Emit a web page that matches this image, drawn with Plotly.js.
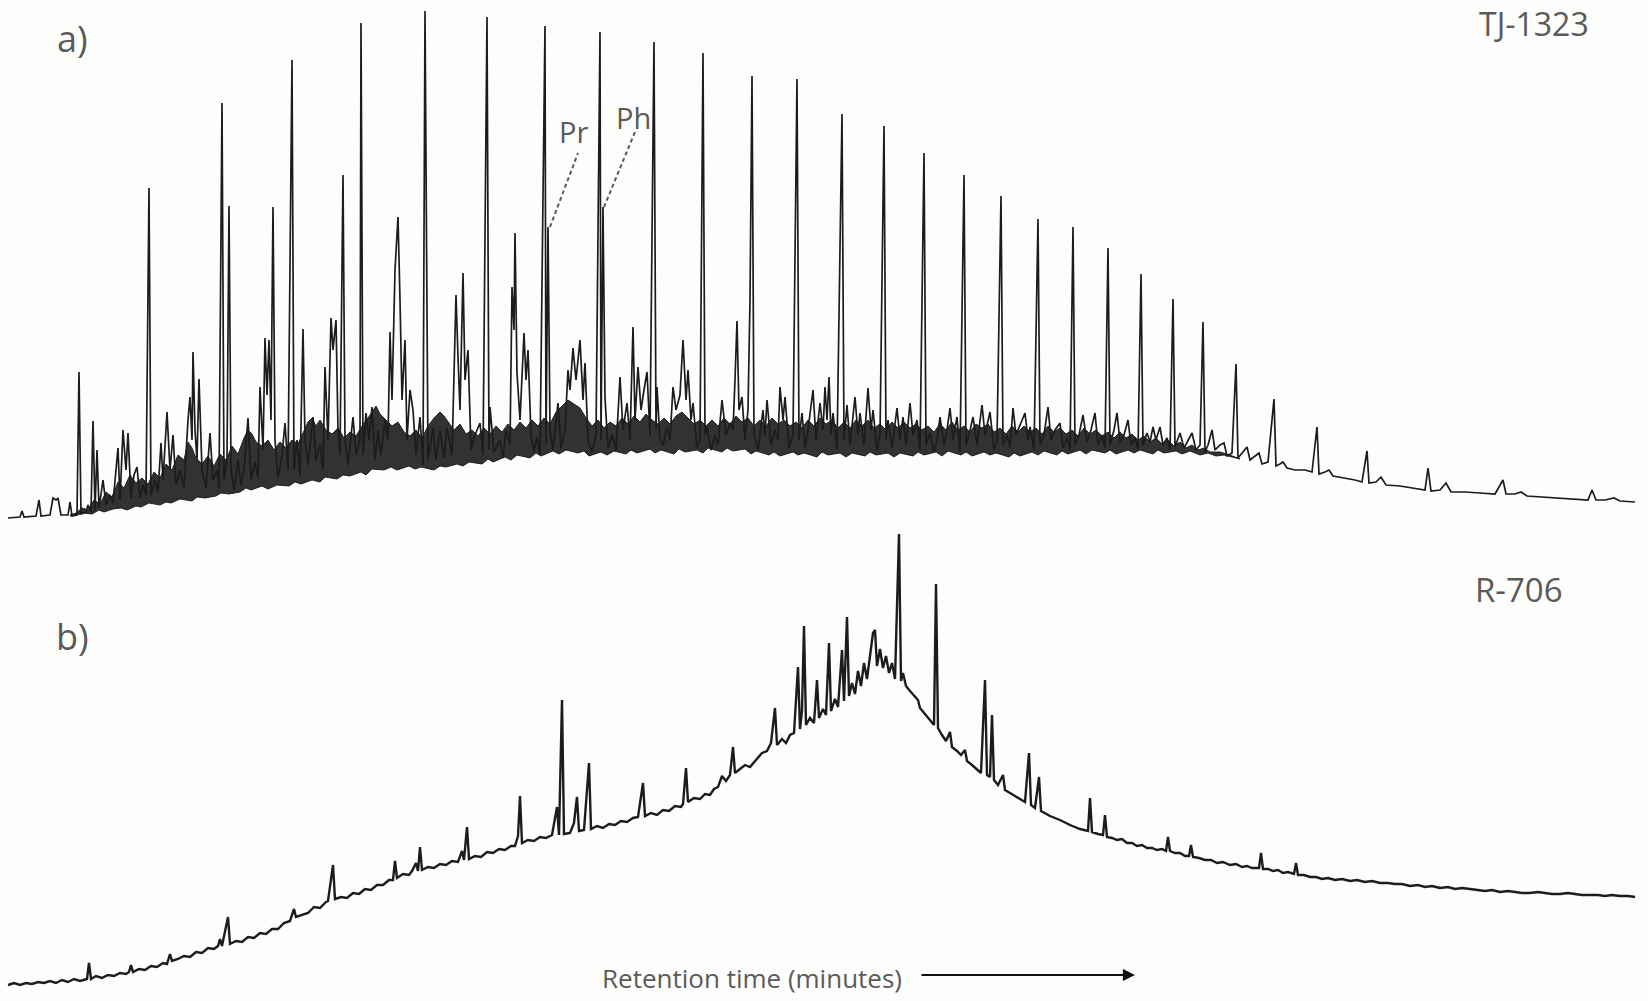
<!DOCTYPE html>
<html>
<head>
<meta charset="utf-8">
<script src="https://cdn.plot.ly/plotly-3.0.1.min.js"></script>
<style>
  html, body { margin: 0; padding: 0; background: #fdfdfc; }
  #chart { width: 1648px; height: 1001px; }
</style>
</head>
<body>
<div id="chart"></div>
<script>
// ---- Data (retention-time index, detector signal) ----
// a) TJ-1323 : digitized trace (valleys and peak apexes in order of retention)
const sampleA = "TJ-1323";
const traceA = [
 [8,12],[20,13],[22,19],[24,13],[36,14],[39,30],[41,14],[50,15],[53,32],[56,30],[58,32],[61,15],[68,15],[70,28],[72,14],[77,15],
 [79,158],[81,16],[86,18],[88,25],[91,18],[93,109],[95,20],[97,80],[99,22],[103,50],[106,25],[110,35],[113,27],
 [118,82],[120,30],[123,100],[126,60],[128,97],[131,32],[134,55],[137,63],[140,32],[143,45],[146,35],[149,342],[151,35],
 [155,50],[158,38],[161,87],[163,50],[167,118],[170,60],[173,95],[176,45],[180,60],[184,42],[188,110],[190,133],[192,90],
 [193,178],[195,100],[197,70],[199,151],[202,60],[206,42],[210,97],[213,50],[217,60],[219,42],[222,427],[224,50],[227,70],
 [229,324],[231,60],[234,40],[238,70],[241,45],[244,60],[248,112],[251,50],[255,68],[258,52],[260,143],[263,80],[265,192],
 [267,135],[269,190],[271,110],[273,323],[275,90],[278,52],[282,75],[285,107],[288,60],[292,470],[294,60],[297,90],[300,55],
 [303,201],[305,90],[308,65],[313,113],[316,70],[320,85],[323,60],[325,163],[328,90],[331,212],[333,180],[336,210],[338,100],
 [340,75],[343,355],[345,90],[348,65],[353,113],[356,75],[360,90],[361,507],[363,75],[366,117],[369,90],[372,123],[375,70],
 [378,100],[381,75],[385,110],[388,90],[390,198],[392,130],[395,260],[398,313],[400,230],[402,130],[405,190],[407,90],
 [410,140],[413,120],[416,75],[420,113],[423,65],[425,519],[428,70],
 [433,102],[436,70],[440,100],[444,72],[447,102],[452,75],[456,235],[458,173],[460,120],[463,257],[465,150],[468,180],[471,80],
 [475,95],[480,107],[483,75],[487,513],[489,80],[490,123],[494,78],[500,90],[503,72],[506,100],[510,85],[512,243],[514,200],
 [515,297],[517,157],[520,110],[524,197],[526,150],[528,180],[531,95],[534,78],[537,93],[540,75],[545,504],[546,85],[548,303],
 [550,100],[553,80],[558,127],[561,82],[565,100],[568,160],[570,140],[573,182],[576,150],[580,190],[583,130],[585,167],
 [588,90],[592,78],[596,95],[600,498],[601,90],[603,323],[605,132],[608,82],[612,95],[616,80],[620,153],[623,100],[627,127],
 [630,90],[633,203],[635,110],[638,163],[641,120],[644,140],[647,158],[650,95],[654,488],[656,100],[657,143],[660,90],[663,85],
 [667,103],[670,90],[673,143],[676,120],[680,135],[683,190],[686,130],[688,160],[691,110],[693,127],[697,82],[700,90],
 [703,477],[705,95],[707,103],[711,80],[715,95],[718,85],[722,130],[726,95],[730,107],[733,100],[735,150],[737,209],[739,120],
 [742,133],[745,90],[748,120],[750,230],[752,454],[754,95],[758,80],[763,120],[765,95],[767,130],[771,85],[775,100],[778,90],
 [780,143],[783,110],[785,133],[789,82],[793,95],[797,451],[799,90],[802,117],[805,82],[808,100],
 [813,140],[816,90],[820,127],[823,100],[825,143],[827,110],[829,153],[831,95],[833,117],[837,80],[842,416],[844,90],[847,125],
 [850,85],[855,133],[858,95],[860,117],[864,85],[868,142],[871,100],[873,120],[877,80],[880,95],[884,404],[886,90],[888,110],
 [892,82],[897,122],[900,90],[903,113],[906,85],[910,127],[913,95],[917,110],[920,80],[924,377],[926,85],[930,97],[934,78],
 [937,90],[940,113],[944,85],[947,100],[950,122],[953,90],[957,113],[960,78],[964,355],[966,85],[969,95],[973,113],[977,85],
 [982,125],[985,95],[990,118],[994,80],[997,90],[1001,334],[1003,85],[1007,95],[1010,82],[1013,122],[1016,95],[1020,105],
 [1025,117],[1028,90],[1030,103],[1034,80],[1038,311],[1040,85],[1044,95],[1048,123],[1051,90],[1055,100],[1060,107],[1063,82],
 [1067,92],[1070,80],[1073,303],[1075,85],[1079,95],[1083,115],[1087,88],[1091,100],[1095,117],[1098,85],[1102,95],[1105,82],
 [1108,282],[1110,85],[1114,100],[1117,117],[1120,88],[1124,95],[1128,110],[1131,85],[1135,92],[1138,80],[1141,256],[1143,85],
 [1147,97],[1150,88],[1153,103],[1156,90],[1160,103],[1163,85],[1167,92],[1170,80],[1173,231],[1175,83],[1180,97],[1184,82],
 [1188,90],[1192,97],[1196,80],[1200,85],[1203,208],[1205,78],[1208,85],[1212,100],[1215,80],[1220,85],[1224,87],[1227,74],
 [1232,77],[1236,166],[1238,72],[1243,78],[1247,83],[1250,70],[1255,74],[1259,77],[1262,66],[1268,68],[1274,131],[1276,64],
 [1280,66],[1283,68],[1287,62],[1295,60],[1305,60],[1312,58],[1317,103],[1319,56],[1325,58],[1329,60],[1333,54],[1345,52],
 [1355,50],[1362,48],[1367,79],[1369,47],[1376,48],[1381,53],[1386,45],[1400,44],[1415,42],[1425,40],[1428,62],[1431,39],
 [1440,40],[1446,47],[1451,38],[1465,38],[1480,37],[1495,36],[1503,50],[1506,36],[1515,36],[1521,38],[1527,34],[1545,33],
 [1560,32],[1575,31],[1588,30],[1592,40],[1596,30],[1605,30],[1614,32],[1620,29],[1635,28]
];
// a) unresolved dense "grass": irregular lower edge and jagged upper edge
const bandA_low = [
 [70,14],[77,15],[83,17],[92,16],[99,20],[104,18],[113,21],[121,22],[127,20],[136,24],[141,23],[149,27],[160,25],[166,28],
 [171,27],[180,31],[192,29],[197,33],[205,32],[216,34],[221,37],[229,36],[240,38],[246,42],[251,40],[262,44],[268,41],[277,45],
 [289,44],[295,48],[301,46],[312,50],[320,48],[325,53],[337,51],[343,55],[350,54],[361,58],[366,55],[372,61],[384,60],[391,63],
 [397,60],[409,64],[415,61],[421,63],[434,60],[440,64],[446,63],[457,66],[463,64],[469,68],[482,66],[488,71],[493,68],[505,73],
 [511,70],[517,75],[530,72],[536,77],[541,74],[553,79],[559,76],[566,80],[578,77],[584,79],[589,74],[601,78],[607,75],[614,79],
 [626,76],[631,80],[637,77],[650,81],[655,77],[661,80],[674,76],[679,81],[685,78],[697,80],[703,77],[708,82],[722,78],[727,82],
 [733,79],[745,81],[751,76],[756,79],[769,75],[774,78],[780,74],[793,78],[798,75],[804,77],[817,73],[822,78],[828,75],[840,77],
 [846,73],[852,77],[865,74],[870,78],[876,75],[888,77],[894,73],[900,77],[913,74],[918,78],[924,75],[936,78],[942,74],[948,79],
 [961,75],[966,78],[972,74],[984,78],[990,75],[996,77],[1009,73],[1014,77],[1020,74],[1032,78],[1038,75],[1044,79],[1057,75],
 [1062,79],[1068,76],[1080,80],[1086,76],[1092,80],[1105,77],[1110,80],[1116,76],[1128,80],[1134,77],[1140,80],[1153,76],
 [1158,80],[1164,77],[1176,79],[1182,76],[1190,79],[1200,75],[1208,77],[1216,74],[1224,75],[1232,73],[1240,71]
];
const bandA_high = [
 [70,15],[76,17],[82,22],[88,20],[94,30],[100,26],[106,38],[112,33],[118,48],[124,42],[130,55],[136,47],[142,52],[148,46],
 [154,58],[160,52],[166,66],[172,60],[178,75],[184,70],[188,88],[192,82],[196,72],[202,66],[208,74],[214,64],[220,76],[226,70],
 [232,84],[238,76],[244,92],[248,100],[252,96],[256,88],[262,84],[268,90],[274,80],[280,88],[286,82],[292,90],[298,86],
 [304,100],[308,108],[312,112],[316,104],[320,110],[326,100],[332,96],[338,102],[344,92],[350,98],[356,94],[362,104],
 [368,112],[372,118],[376,124],[380,116],[386,110],[392,104],[398,108],[404,98],[410,94],[416,100],[422,92],[428,104],
 [434,112],[440,118],[444,114],[448,108],[454,100],[460,106],[466,96],[472,100],[478,94],[484,102],[490,96],[496,104],
 [502,98],[508,106],[514,100],[520,108],[526,102],[532,110],[538,104],[544,112],[550,106],[556,118],[562,124],[568,130],
 [574,126],[580,122],[586,112],[592,104],[598,110],[604,102],[610,108],[616,104],[622,112],[628,106],[634,114],[640,108],
 [646,116],[652,110],[658,106],[664,112],[670,106],[676,114],[682,118],[688,112],[694,106],[700,110],[706,104],[712,110],
 [718,104],[724,112],[730,106],[736,114],[742,108],[748,112],[754,104],[760,110],[766,104],[772,112],[778,106],[784,110],
 [790,104],[796,108],[802,102],[808,110],[814,104],[820,112],[826,106],[832,110],[838,102],[844,108],[850,102],[856,110],
 [862,104],[868,110],[874,102],[880,106],[886,100],[892,108],[898,102],[904,108],[910,102],[916,106],[922,100],[928,104],
 [934,98],[940,106],[946,100],[952,108],[958,100],[964,104],[970,98],[976,106],[982,102],[988,106],[994,98],[1000,102],
 [1006,96],[1012,104],[1018,98],[1024,104],[1030,98],[1036,102],[1042,96],[1048,104],[1054,98],[1060,102],[1066,96],
 [1072,100],[1078,94],[1084,102],[1090,96],[1096,100],[1102,94],[1108,98],[1114,92],[1120,98],[1126,92],[1132,96],[1138,90],
 [1144,94],[1150,88],[1156,92],[1162,86],[1168,90],[1174,84],[1180,88],[1186,82],[1192,85],[1198,80],[1204,82],[1210,78],
 [1220,78],[1230,75],[1240,71]
];

// b) R-706 : digitized trace
const sampleB = "R-706";
const traceB = [
 [8,16],[14,18],[20,16],[26,18],[32,17],[38,19],[44,18],[50,20],[56,18],[62,21],[68,19],[74,22],[80,20],[87,22],[89,38],[91,22],
 [96,25],[102,23],[108,26],[114,25],[120,28],[126,27],[129,29],[131,36],[133,29],[139,32],[145,31],[151,35],[157,34],[163,38],
 [167,37],[170,47],[172,40],[178,42],[184,45],[190,44],[196,49],[202,48],[208,53],[214,52],[218,55],[220,62],[222,55],[228,84],
 [230,57],[236,60],[242,59],[248,64],[254,63],[260,68],[266,67],[272,72],[278,72],[284,78],[290,80],[294,92],[296,84],[302,86],
 [308,88],[314,94],[320,93],[326,99],[328,100],[333,136],[335,102],[341,104],[347,103],[353,108],[359,107],[365,112],[371,111],
 [377,116],[383,116],[389,121],[393,121],[395,140],[397,123],[403,127],[409,126],[412,130],[416,138],[418,130],[420,154],
 [422,131],[428,134],[434,133],[440,137],[446,136],[452,140],[458,139],[462,150],[464,141],[467,174],[469,142],[475,145],
 [481,144],[487,149],[493,148],[499,152],[505,151],[511,155],[515,155],[518,165],[520,205],[522,158],[528,161],[534,160],
 [540,164],[546,163],[552,166],[557,194],[559,166],[562,301],[564,167],[570,168],[574,178],[577,204],[579,170],[584,171],
 [589,238],[591,172],[597,175],[603,173],[609,177],[615,176],[621,180],[627,179],[633,183],[638,184],[643,218],[645,185],
 [651,188],[657,186],[663,191],[669,190],[675,195],[681,194],[683,197],[686,233],[688,199],[694,203],[700,202],[705,207],
 [710,206],[714,212],[718,214],[722,225],[726,220],[730,226],[733,254],[735,228],[740,232],[745,236],[750,234],[757,242],
 [762,248],[767,250],[771,258],[775,293],[777,256],[782,262],[786,258],[790,266],[794,268],[798,334],[800,272],[802,290],
 [804,375],[806,276],[810,283],[814,278],[817,321],[819,283],[823,292],[826,286],[829,358],[831,290],[835,302],[838,294],
 [842,351],[844,300],[847,384],[849,305],[852,318],[855,307],[858,330],[861,315],[864,338],[867,322],[870,345],[873,368],
 [875,371],[877,335],[880,352],[883,333],[886,345],[889,328],[892,338],[895,322],[899,467],[901,320],[903,328],[906,315],
 [910,310],[914,305],[918,301],[920,293],[925,287],[930,280],[934,276],[936,417],[938,273],[942,266],[946,260],[950,269],
 [952,254],[957,250],[961,246],[965,251],[967,240],[972,236],[977,232],[981,228],[985,321],[987,226],[990,224],[992,286],
 [994,221],[998,216],[1003,226],[1005,211],[1010,208],[1015,205],[1020,202],[1025,199],[1029,248],[1031,196],[1035,193],
 [1039,224],[1041,190],[1050,185],[1060,181],[1070,176],[1080,172],[1088,170],[1090,203],[1092,169],[1098,167],[1103,166],
 [1105,186],[1107,164],[1112,163],[1117,161],[1122,162],[1127,158],[1132,158],[1137,155],[1142,156],[1147,153],[1152,153],
 [1157,151],[1162,152],[1166,150],[1168,164],[1170,150],[1175,148],[1180,148],[1185,145],[1189,145],[1191,156],[1193,144],
 [1199,143],[1205,141],[1211,141],[1217,138],[1223,139],[1230,136],[1236,137],[1242,134],[1247,135],[1252,133],[1259,133],
 [1261,148],[1263,132],[1268,132],[1273,130],[1278,131],[1283,128],[1288,129],[1294,127],[1296,138],[1298,126],[1304,126],
 [1310,124],[1316,124],[1322,122],[1328,123],[1335,121],[1342,122],[1350,120],[1357,121],[1365,119],[1372,120],[1380,118],
 [1388,118],[1395,117],[1402,117],[1410,115],[1418,116],[1425,114],[1432,115],[1440,113],[1448,114],[1455,112],[1462,113],
 [1470,112],[1478,111],[1485,110],[1492,111],[1500,109],[1508,110],[1515,109],[1522,108],[1530,108],[1538,109],[1545,108],
 [1552,107],[1560,107],[1568,108],[1575,107],[1582,106],[1590,106],[1598,106],[1605,105],[1612,106],[1620,105],[1628,105],
 [1635,104]
];
// labelled isoprenoids in a): retention index and apex signal
const isoLabels = ["Pr", "Ph"];
const isoTime   = [548, 603];
const isoTop    = [303, 323];
const axisLabel = "Retention time (minutes)";

// ---- Plot ----
const col = (arr, i) => arr.map(p => p[i]);
const ink = '#1c1c1c';
const grey = '#5a5a5a';
const font = "'Open Sans', 'Noto Sans', sans-serif";

const traces = [
  { x: col(bandA_low, 0), y: col(bandA_low, 1), xaxis: 'x', yaxis: 'y', mode: 'lines',
    line: { width: 1, color: 'rgba(22,22,22,0.9)' }, hoverinfo: 'skip', showlegend: false },
  { x: col(bandA_high, 0), y: col(bandA_high, 1), xaxis: 'x', yaxis: 'y', mode: 'lines', fill: 'tonexty',
    fillcolor: 'rgba(22,22,22,0.88)', line: { width: 1, color: 'rgba(22,22,22,0.9)' }, hoverinfo: 'skip', showlegend: false },
  { x: col(traceA, 0), y: col(traceA, 1), xaxis: 'x', yaxis: 'y', mode: 'lines', name: sampleA,
    line: { width: 1.7, color: ink }, showlegend: false },
  { x: col(traceB, 0), y: col(traceB, 1), xaxis: 'x', yaxis: 'y2', mode: 'lines', name: sampleB,
    line: { width: 2.4, color: ink }, showlegend: false }
];

const P = (px) => px / 1648;          // paper helpers for label placement
const Q = (py) => 1 - py / 1001;
const lab = (text, x, y, size) => ({ text, xref: 'paper', yref: 'paper', x: P(x), y: Q(y),
  xanchor: 'center', yanchor: 'middle', showarrow: false, font: { family: font, size, color: grey } });

const annotations = [
  lab('a)', 72, 38, 36),
  lab('b)', 72, 636, 36),
  lab(sampleA, 1534, 24, 32),
  lab(sampleB, 1519, 589, 33),
  lab(axisLabel, 752, 978, 26),
  { text: isoLabels[0], xref: 'x', yref: 'y', x: isoTime[0] + 25, y: isoTop[0] + 96, xanchor: 'center', yanchor: 'middle',
    showarrow: false, font: { family: font, size: 29, color: grey } },
  { text: isoLabels[1], xref: 'x', yref: 'y', x: isoTime[1] + 30, y: isoTop[1] + 90, xanchor: 'center', yanchor: 'middle',
    showarrow: false, font: { family: font, size: 29, color: grey } },
  { text: '', xref: 'x', yref: 'y2', x: 1135, y: 26, ax: -215, ay: 0, showarrow: true,
    arrowhead: 2, arrowsize: 1.1, arrowwidth: 2.2, arrowcolor: '#111' }
];

const shapes = [
  { type: 'line', xref: 'x', yref: 'y', x0: isoTime[0] + 2, y0: isoTop[0], x1: isoTime[0] + 30, y1: isoTop[0] + 74,
    line: { color: grey, width: 2, dash: '4px,3px' } },
  { type: 'line', xref: 'x', yref: 'y', x0: isoTime[1] + 1, y0: isoTop[1], x1: isoTime[1] + 32, y1: isoTop[1] + 75,
    line: { color: grey, width: 2, dash: '4px,3px' } }
];

const hidden = { visible: false, showgrid: false, zeroline: false, showticklabels: false, fixedrange: true };

const layout = {
  width: 1648, height: 1001,
  margin: { l: 0, r: 0, t: 0, b: 0 },
  paper_bgcolor: '#fdfdfc', plot_bgcolor: '#fdfdfc',
  showlegend: false,
  xaxis: Object.assign({ range: [0, 1648], domain: [0, 1] }, hidden),
  yaxis: Object.assign({ range: [0, 530], domain: [0.47053, 1] }, hidden),
  yaxis2: Object.assign({ range: [0, 471], domain: [0, 0.47053], anchor: 'x' }, hidden),
  annotations: annotations,
  shapes: shapes
};

Plotly.newPlot('chart', traces, layout, { staticPlot: true, displayModeBar: false });
</script>
</body>
</html>
